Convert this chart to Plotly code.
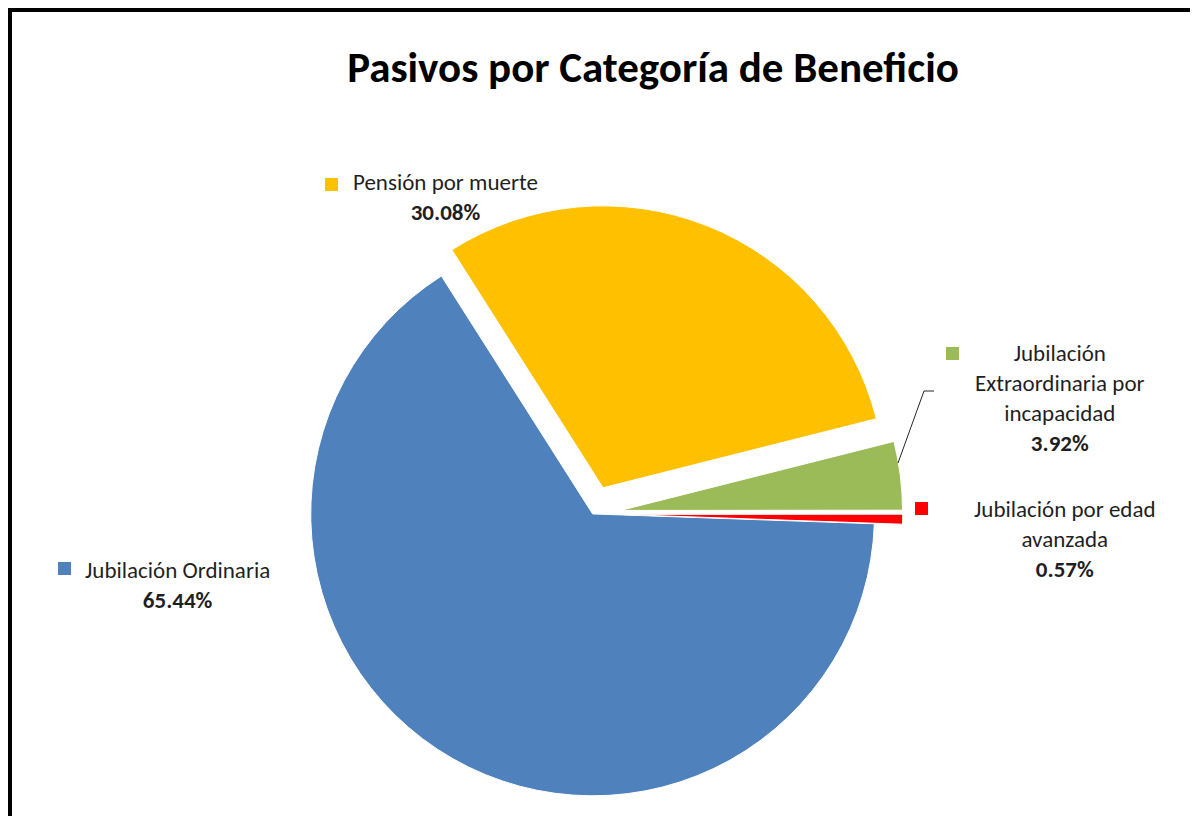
import plotly.graph_objects as go

# datos del gráfico
categorias = ["Jubilación Ordinaria", "Pensión por muerte",
              "Jubilación<br>Extraordinaria por<br>incapacidad",
              "Jubilación por edad<br>avanzada"]
porcentajes = [65.44, 30.08, 3.92, 0.57]
colores = ["#4F81BD", "#FFC000", "#9BBB59", "#FF0000"]
separacion = [0, 0.1, 0.1, 0.1]

W, H = 1198, 816
OFF = 8  # margen del body de la página html
FONT = "Carlito, Lato, sans-serif"

def px(x):
    return (x - OFF) / W

def py(y):
    return 1 - (y - OFF) / H

fig = go.Figure()
fig.add_trace(go.Pie(
    labels=[c.replace("<br>", " ") for c in categorias],
    values=porcentajes,
    marker=dict(colors=colores, line=dict(color="white", width=1)),
    pull=separacion,
    sort=False,
    direction="clockwise",
    rotation=92,
    textinfo="none",
    hoverinfo="label+percent",
    showlegend=False,
    domain=dict(x=[0.228, 0.748], y=[0, 0.76]),
))

# etiquetas con su cuadro de color (posición del texto y del cuadro en píxeles)
etiq_pos = [(178, 585), (445, 197), (1060, 398), (1065, 539)]
cuadro_pos = [(58, 562), (325, 178), (946, 347), (915, 502)]

for cat, val, col, (tx, ty), (sx, sy) in zip(categorias, porcentajes, colores, etiq_pos, cuadro_pos):
    fig.add_annotation(
        x=px(tx), y=py(ty), xref="paper", yref="paper",
        text=f"{cat}<br><b>{val:.2f}%</b>", showarrow=False,
        xanchor="center", yanchor="middle", align="center",
        font=dict(family=FONT, size=23, color="#1f1f1f"),
    )
    fig.add_shape(type="rect", xref="paper", yref="paper",
                  x0=px(sx), x1=px(sx + 13), y0=py(sy), y1=py(sy + 13),
                  fillcolor=col, line=dict(width=0))

# línea guía de la etiqueta verde
fig.add_shape(type="path", xref="paper", yref="paper",
              path=f"M {px(898)},{py(463)} L {px(924)},{py(391)} L {px(934)},{py(391)}",
              line=dict(color="#262626", width=1))

# marco del gráfico: izquierda y arriba gruesos, derecha gris fino
fig.add_shape(type="line", xref="paper", yref="paper",
              x0=px(10), x1=px(10), y0=py(8), y1=py(850),
              line=dict(color="black", width=4))
fig.add_shape(type="line", xref="paper", yref="paper",
              x0=px(8), x1=px(1198), y0=py(10), y1=py(10),
              line=dict(color="black", width=4))
fig.add_shape(type="line", xref="paper", yref="paper",
              x0=px(1193), x1=px(1193), y0=py(10), y1=py(850),
              line=dict(color="#7f7f7f", width=1.5))

fig.update_layout(
    width=W, height=H,
    margin=dict(l=0, r=0, t=0, b=0),
    paper_bgcolor="white",
    title=dict(text="<b>Pasivos por Categoría de Beneficio</b>",
               x=px(653), xanchor="center", y=py(67), yanchor="middle",
               font=dict(family=FONT, size=43, color="black")),
)

fig.write_html("out.html")
